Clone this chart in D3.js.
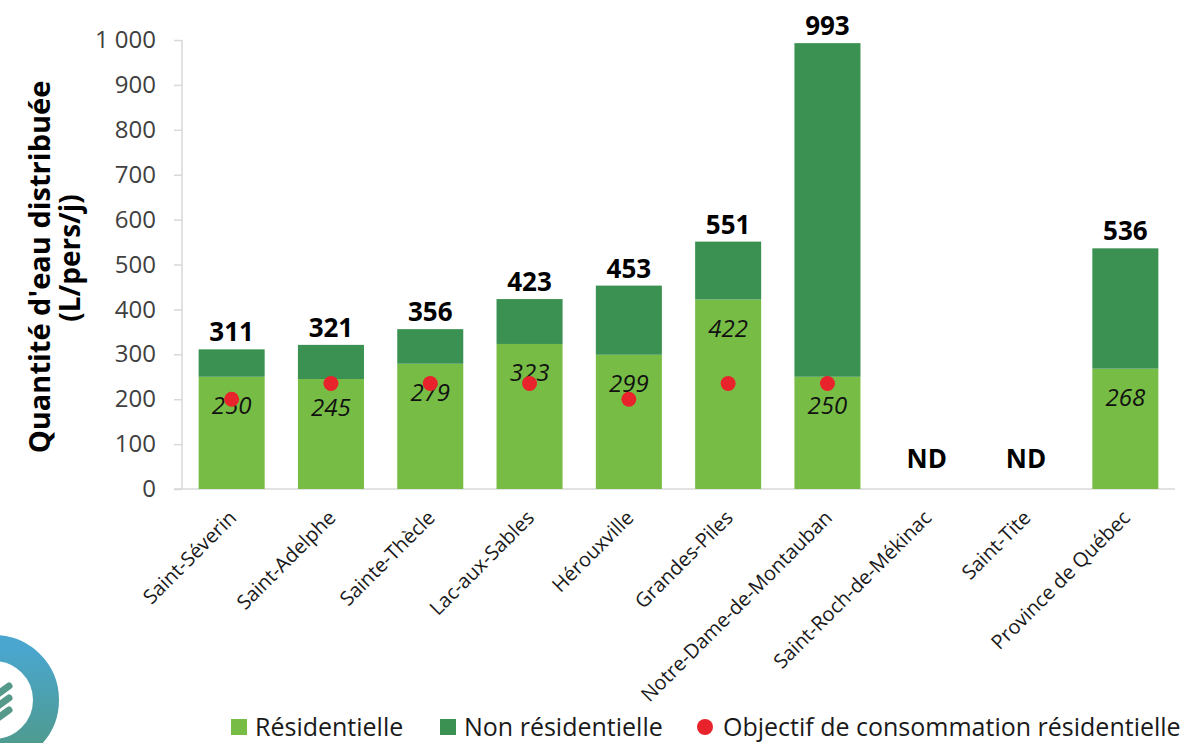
<!DOCTYPE html>
<html>
<head>
<meta charset="utf-8">
<script src="https://cdn.jsdelivr.net/npm/d3@7"></script>
<style>
  body { margin: 0; background: #fff; }
  svg { display: block; font-family: "Open Sans", "Noto Sans", sans-serif; }
</style>
</head>
<body>
<div id="chart"></div>
<script>
let categories = ["Saint-Séverin", "Saint-Adelphe", "Sainte-Thècle", "Lac-aux-Sables", "Hérouxville",
    "Grandes-Piles", "Notre-Dame-de-Montauban", "Saint-Roch-de-Mékinac", "Saint-Tite", "Province de Québec"]
let residential = [250, 245, 279, 323, 299, 422, 250, null, null, 268]
let total = [311, 321, 356, 423, 453, 551, 993, null, null, 536]
let objective = [200, 235, 235, 235, 200, 235, 235, null, null, null]
let y_ticks = [0, 100, 200, 300, 400, 500, 600, 700, 800, 900, 1000]
let legend_labels = ["Résidentielle", "Non résidentielle", "Objectif de consommation résidentielle"]

let w = 1187
let h = 743
let font = "'Open Sans', 'Noto Sans', sans-serif"
let col_res = "#77bd45"
let col_non = "#3b9152"
let col_obj = "#e8232b"
let axis_col = "#d9d9d9"

let rows = categories.map((c, i) => ({
    name: c, res: residential[i], tot: total[i], obj: objective[i]
}))

let x = d3.scaleBand().domain(categories).range([182, 1175]).paddingInner(0.335).paddingOuter(0.1675)
let y = d3.scaleLinear().domain([0, 1000]).range([489, 40])

let fmt = d3.formatLocale({decimal: ",", thousands: " ", grouping: [3], currency: ["", " $"]}).format(",d")

let svg = d3.select("#chart").append("svg").attr("width", w).attr("height", h)

// logo fragment, bottom left
let logo = svg.append("g").attr("transform", "translate(-6, 700)")
let grad = svg.append("defs").append("linearGradient").attr("id", "ring")
    .attr("x1", 0).attr("y1", 0).attr("x2", 0).attr("y2", 1)
grad.append("stop").attr("offset", "0%").attr("stop-color", "#4aa6cf")
grad.append("stop").attr("offset", "100%").attr("stop-color", "#4f9a8a")
logo.append("circle").attr("r", 52).attr("fill", "none").attr("stroke", "url(#ring)").attr("stroke-width", 26)
logo.selectAll("line.finger").data([0, 1, 2]).enter().append("line")
    .attr("x1", 4).attr("x2", 15)
    .attr("y1", d => -6 + d * 12).attr("y2", d => -14 + d * 12)
    .attr("stroke", "#55998a").attr("stroke-width", 7).attr("stroke-linecap", "round")

// y axis
let yAxis = svg.append("g").attr("transform", "translate(182,0)")
    .call(d3.axisLeft(y).tickValues(y_ticks).tickFormat(fmt).tickSize(8).tickPadding(18))
    .attr("font-family", font)
yAxis.selectAll("path, line").attr("stroke", axis_col).attr("stroke-width", 1.5)
yAxis.selectAll("text").attr("font-size", 24).attr("fill", "#404040")
yAxis.select(".domain").attr("d", `M0,${y(1000)}V${y(0)}`)

// x axis
let xAxis = svg.append("g").attr("transform", `translate(0,${y(0)})`)
    .call(d3.axisBottom(x).tickSize(0).tickPadding(0))
    .attr("font-family", font)
xAxis.select(".domain").attr("stroke", axis_col).attr("stroke-width", 1.5)
    .attr("d", `M174,0H1175`)
xAxis.selectAll(".tick text")
    .attr("font-size", 20)
    .attr("fill", "#1a1a1a")
    .attr("text-anchor", "end")
    .attr("dy", 0)
    .attr("transform", "translate(6,30) rotate(-45)")

// y title
svg.append("text")
    .attr("transform", "translate(50,267) rotate(-90)")
    .attr("text-anchor", "middle")
    .attr("font-size", 29)
    .attr("font-weight", "bold")
    .attr("fill", "#000")
    .text("Quantité d'eau distribuée")
svg.append("text")
    .attr("transform", "translate(80,258) rotate(-90)")
    .attr("text-anchor", "middle")
    .attr("font-size", 28)
    .attr("font-weight", "bold")
    .attr("fill", "#000")
    .text("(L/pers/j)")

let data = rows.filter(d => d.tot != null)

// residential bars
svg.selectAll("rect.res").data(data).enter().append("rect")
    .attr("class", "res")
    .attr("x", d => x(d.name))
    .attr("width", x.bandwidth())
    .attr("y", d => y(d.res))
    .attr("height", d => y(0) - y(d.res))
    .attr("fill", col_res)

// non residential bars
svg.selectAll("rect.non").data(data).enter().append("rect")
    .attr("class", "non")
    .attr("x", d => x(d.name))
    .attr("width", x.bandwidth())
    .attr("y", d => y(d.tot))
    .attr("height", d => y(d.res) - y(d.tot))
    .attr("fill", col_non)

// residential labels
svg.selectAll("text.res-lab").data(data).enter().append("text")
    .attr("class", "res-lab")
    .attr("x", d => x(d.name) + x.bandwidth() / 2)
    .attr("y", d => y(d.res) + 37)
    .attr("text-anchor", "middle")
    .attr("font-size", 24)
    .attr("font-style", "italic")
    .attr("fill", "#111")
    .text(d => d.res)

// objective dots
svg.selectAll("circle.obj").data(rows.filter(d => d.obj != null)).enter().append("circle")
    .attr("class", "obj")
    .attr("cx", d => x(d.name) + x.bandwidth() / 2)
    .attr("cy", d => y(d.obj))
    .attr("r", 7.5)
    .attr("fill", col_obj)

// total labels
svg.selectAll("text.tot-lab").data(rows).enter().append("text")
    .attr("class", "tot-lab")
    .attr("x", d => x(d.name) + x.bandwidth() / 2)
    .attr("y", d => d.tot == null ? y(0) - 21 : y(d.tot) - 8)
    .attr("text-anchor", "middle")
    .attr("font-size", 26)
    .attr("font-weight", "bold")
    .attr("fill", "#000")
    .text(d => d.tot == null ? "ND" : d.tot)

// legend
let lg = svg.append("g").attr("transform", "translate(231,727)")
let lgx = [0, 209, 466]
lg.append("rect").attr("x", lgx[0]).attr("y", -8).attr("width", 16).attr("height", 16).attr("fill", col_res)
lg.append("rect").attr("x", lgx[1]).attr("y", -8).attr("width", 16).attr("height", 16).attr("fill", col_non)
lg.append("circle").attr("cx", lgx[2] + 8).attr("cy", 0).attr("r", 8).attr("fill", col_obj)
lg.selectAll("text").data(legend_labels).enter().append("text")
    .attr("x", (d, i) => lgx[i] + (i == 2 ? 26 : 24))
    .attr("y", 0)
    .attr("dy", "0.35em")
    .attr("font-size", 25)
    .attr("fill", "#1a1a1a")
    .text(d => d)
</script>
</body>
</html>
